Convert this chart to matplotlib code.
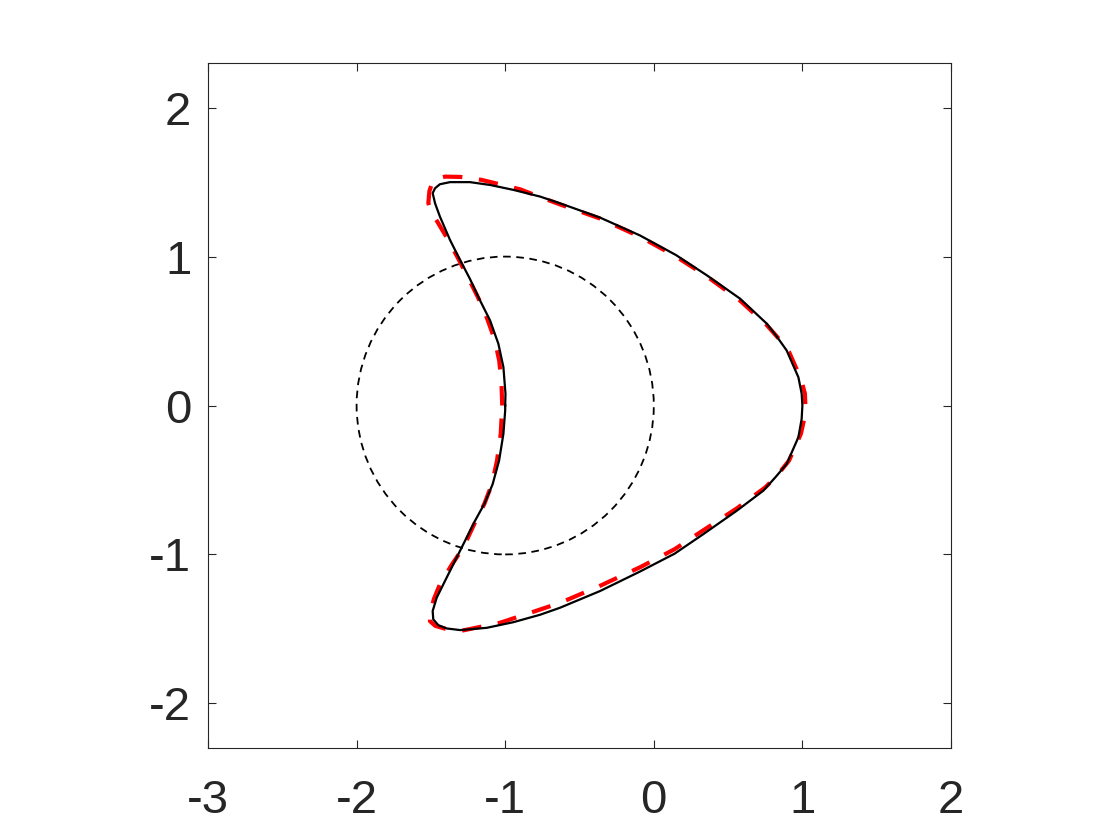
import matplotlib
matplotlib.use('Agg')
import matplotlib.pyplot as plt
from matplotlib.patches import Circle

plt.rcParams['font.family'] = ['Liberation Sans', 'DejaVu Sans']
plt.rcParams['axes.unicode_minus'] = False
plt.rcParams['lines.scale_dashes'] = False

# reference circle
circ_center = (-1.0, 0.0)
circ_radius = 1.0

# black solid boundary
black_x = [-1.000, -0.998, -1.012, -1.046, -1.102, -1.170, -1.237, -1.304, -1.371, -1.439,
           -1.472, -1.488, -1.472, -1.439, -1.371, -1.237, -1.102, -0.945, -0.765, -0.631,
           -0.362, -0.093, 0.150, 0.356, 0.580, 0.760, 0.830, 0.894, 0.973, 0.995,
           1.000, 0.995, 0.973, 0.894, 0.820, 0.737, 0.558, 0.333, 0.140, -0.093,
           -0.362, -0.631, -0.765, -0.945, -1.125, -1.304, -1.394, -1.450, -1.484, -1.488,
           -1.461, -1.394, -1.304, -1.237, -1.203, -1.140, -1.085, -1.041, -1.012, -1.000,
           -1.000]
black_y = [0.000, 0.079, 0.258, 0.415, 0.572, 0.707, 0.850, 0.978, 1.111, 1.268,
           1.358, 1.426, 1.459, 1.486, 1.500, 1.500, 1.481, 1.448, 1.403, 1.358,
           1.262, 1.142, 1.010, 0.875, 0.718, 0.550, 0.460, 0.370, 0.190, 0.080,
           0.000, -0.090, -0.213, -0.393, -0.480, -0.572, -0.707, -0.864, -0.995, -1.115,
           -1.246, -1.358, -1.405, -1.455, -1.493, -1.508, -1.497, -1.475, -1.436, -1.380,
           -1.291, -1.156, -0.976, -0.842, -0.774, -0.660, -0.530, -0.370, -0.190, -0.034,
           0.000]

# red dashed boundary
red_x = [-1.020, -1.025, -1.040, -1.070, -1.120, -1.180, -1.250, -1.315, -1.383, -1.460,
         -1.500, -1.517, -1.510, -1.484, -1.405, -1.300, -1.158, -0.900, -0.765, -0.630,
         -0.360, -0.090, 0.150, 0.360, 0.580, 0.760, 0.840, 0.910, 0.990, 1.017,
         1.020, 1.010, 0.990, 0.910, 0.830, 0.750, 0.560, 0.330, 0.140, -0.090,
         -0.360, -0.630, -0.810, -1.035, -1.282, -1.400, -1.470, -1.506, -1.506, -1.480,
         -1.439, -1.360, -1.282, -1.210, -1.140, -1.090, -1.055, -1.030, -1.020]
red_y = [0.000, 0.150, 0.300, 0.440, 0.580, 0.720, 0.860, 0.985, 1.111, 1.240,
         1.300, 1.360, 1.440, 1.515, 1.537, 1.535, 1.515, 1.452, 1.400, 1.350,
         1.255, 1.132, 1.000, 0.865, 0.705, 0.540, 0.450, 0.360, 0.180, 0.080,
         0.000, -0.100, -0.190, -0.370, -0.470, -0.550, -0.690, -0.840, -0.965, -1.085,
         -1.210, -1.325, -1.385, -1.459, -1.510, -1.500, -1.480, -1.448, -1.400, -1.300,
         -1.200, -1.070, -0.954, -0.800, -0.660, -0.530, -0.370, -0.190, 0.000]

xticks = [-3, -2, -1, 0, 1, 2]
yticks = [-2, -1, 0, 1, 2]

fig = plt.figure(figsize=(11.2, 8.4), dpi=100)
ax = fig.add_axes([0.1857, 0.1095, 0.6634, 0.8155])

ax.add_patch(Circle(circ_center, circ_radius, fill=False, ec='black', lw=1.3,
                    linestyle=(0, (5.5, 4.0))))
ax.plot(red_x, red_y, color='red', lw=3.0, linestyle=(0, (14, 12)))
ax.plot(black_x, black_y, color='black', lw=1.6)

ax.set_xlim(-3, 2)
ax.set_ylim(-2.3, 2.3)
ax.set_xticks(xticks)
ax.set_yticks(yticks)
ax.set_xticklabels([str(t) for t in xticks])
ax.set_yticklabels([str(t) for t in yticks])

for s in ax.spines.values():
    s.set_linewidth(0.8)
    s.set_color('#262626')
ax.tick_params(direction='in', length=6, width=0.8, color='#262626',
               labelsize=34, labelcolor='#262626', top=True, right=True)
ax.tick_params(axis='x', pad=22)
ax.tick_params(axis='y', pad=12)

fig.savefig('out.png', dpi=100)
